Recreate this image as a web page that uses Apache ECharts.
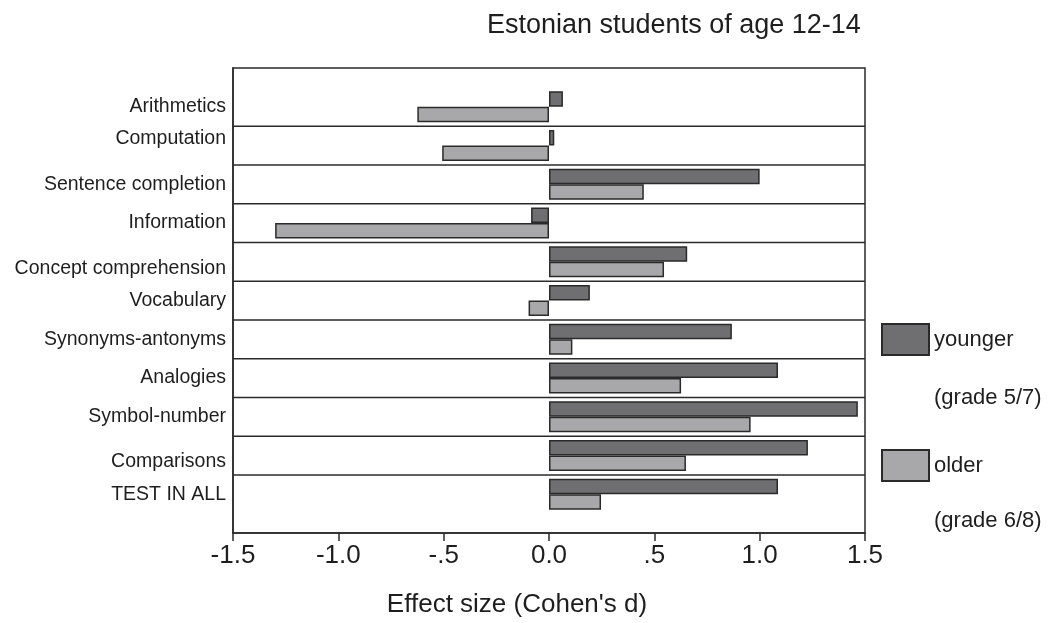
<!DOCTYPE html>
<html>
<head>
<meta charset="utf-8">
<script src="https://cdn.jsdelivr.net/npm/echarts@6/dist/echarts.min.js"></script>
<style>html,body{margin:0;padding:0;background:#fff}#c{width:1056px;height:623px}</style>
</head>
<body>
<div id="c"></div>
<script>
const categories = ['Arithmetics','Computation','Sentence completion','Information','Concept comprehension','Vocabulary','Synonyms-antonyms','Analogies','Symbol-number','Comparisons','TEST IN ALL'];
const younger = [0.066, 0.025, 1.00, -0.085, 0.656, 0.194, 0.868, 1.087, 1.466, 1.229, 1.087];
const older = [-0.625, -0.507, 0.45, -1.30, 0.546, -0.097, 0.111, 0.627, 0.957, 0.650, 0.247];
const xTicks = ['-1.5','-1.0','-.5','0.0','.5','1.0','1.5'];
const seriesNames = ['younger','older'];
const seriesNotes = ['(grade 5/7)','(grade 6/8)'];

// label layout nudges (styling only)
const labelNudge = {'Computation': 'u', 'Concept comprehension': 'd', 'Comparisons': 'd'};

const FONT = '"Liberation Sans", Arial, Helvetica, sans-serif';
const INK = '#1e1e1e';
const yCats = [''].concat(categories, ['']);
const pad = arr => [null].concat(arr, [null]);
const sepData = [];
for (let i = 1; i < categories.length; i++) sepData.push([0, i]);

const chart = echarts.init(document.getElementById('c'), null, {renderer: 'canvas'});
chart.setOption({
  backgroundColor: '#fff',
  animation: false,
  textStyle: {fontFamily: FONT},
  title: {
    text: 'Estonian students of age 12-14',
    left: 482, top: 7,
    textStyle: {fontFamily: FONT, fontSize: 27, fontWeight: 'normal', color: INK}
  },
  legend: {
    data: seriesNames,
    orient: 'vertical',
    left: 881, top: 323, padding: 0,
    itemWidth: 47, itemHeight: 31, itemGap: 93,
    icon: 'rect',
    textStyle: {fontFamily: FONT, fontSize: 22, color: INK}
  },
  graphic: [
    {type: 'text', left: 934, top: 387, style: {text: seriesNotes[0], font: '22px ' + FONT, fill: INK}},
    {type: 'text', left: 934, top: 510, style: {text: seriesNotes[1], font: '22px ' + FONT, fill: INK}}
  ],
  grid: {left: 233, right: 191, top: 68, bottom: 88, show: true, borderColor: '#2a2a2a', borderWidth: 1.5, backgroundColor: 'transparent'},
  xAxis: {
    type: 'value', min: -1.5, max: 1.5, interval: 0.5,
    name: "Effect size (Cohen's d)", nameLocation: 'middle', nameGap: 59,
    nameTextStyle: {fontFamily: FONT, fontSize: 26, color: INK, padding: [0, 64, 0, 0]},
    axisLine: {show: true, onZero: false, lineStyle: {color: '#2a2a2a', width: 1.5}},
    axisTick: {show: true, length: 8, lineStyle: {color: '#2a2a2a', width: 1.5}},
    splitLine: {show: false},
    axisLabel: {
      fontFamily: FONT, fontSize: 26, color: INK, margin: 10,
      formatter: (v) => xTicks[Math.round((v + 1.5) / 0.5)]
    }
  },
  yAxis: {
    type: 'category', inverse: true, boundaryGap: false, data: yCats,
    axisLine: {show: true, onZero: false, lineStyle: {color: '#2a2a2a', width: 1.5}},
    axisTick: {show: false},
    splitLine: {show: false},
    axisLabel: {
      fontFamily: FONT, fontSize: 19.5, color: INK, margin: 7, interval: 0,
      formatter: (v) => v === '' ? '' : '{' + (labelNudge[v] || 'n') + '|' + v + '}',
      rich: {
        n: {fontFamily: FONT, fontSize: 19.5, color: INK},
        u: {fontFamily: FONT, fontSize: 19.5, color: INK, padding: [0, 0, 14, 0]},
        d: {fontFamily: FONT, fontSize: 19.5, color: INK, padding: [13, 0, 0, 0]}
      }
    }
  },
  series: [
    {
      name: seriesNames[0], type: 'bar', data: pad(younger), barWidth: 15.5, barGap: '0%',
      itemStyle: {color: '#6f6f72', borderColor: '#2a2a2a', borderWidth: 1.5}
    },
    {
      name: seriesNames[1], type: 'bar', data: pad(older), barWidth: 15.5, barGap: '0%',
      itemStyle: {color: '#a8a8aa', borderColor: '#2a2a2a', borderWidth: 1.5}
    },
    {
      name: 'separators', type: 'custom', data: sepData, encode: {x: 0, y: 1}, silent: true, z: 1,
      renderItem: function (params, api) {
        const p = api.coord([0, api.value(1)]);
        const s = api.size([0, 1]);
        const y = p[1] + s[1] / 2;
        const cs = params.coordSys;
        return {type: 'line', shape: {x1: cs.x, y1: y, x2: cs.x + cs.width, y2: y},
                style: {stroke: '#2a2a2a', lineWidth: 1.5}};
      }
    }
  ]
});
</script>
</body>
</html>
